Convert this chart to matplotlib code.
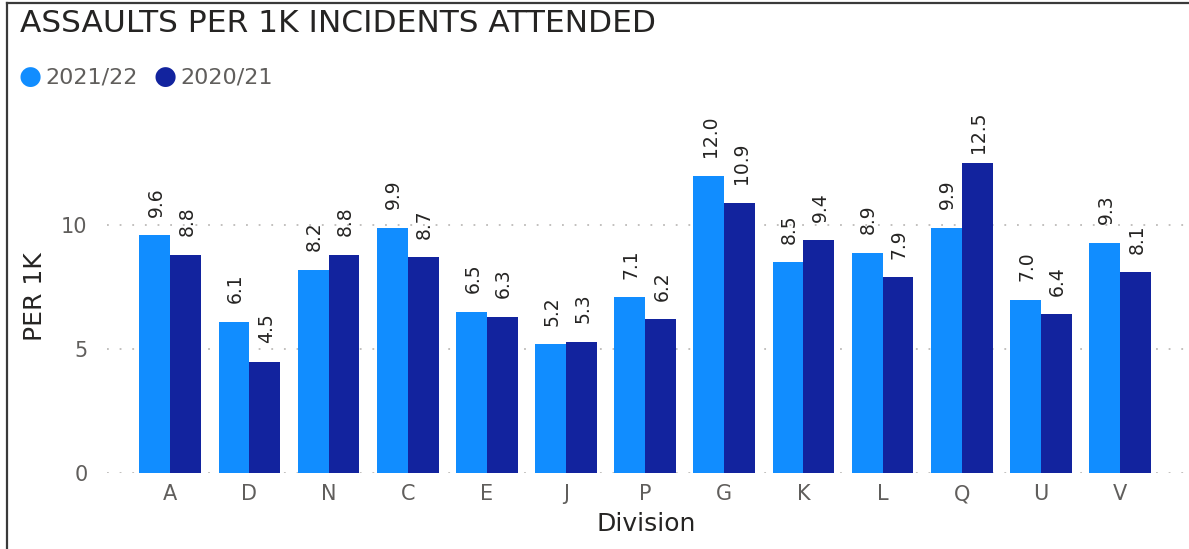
import matplotlib
matplotlib.use("Agg")
import matplotlib.pyplot as plt
import numpy as np

divisions = ["A", "D", "N", "C", "E", "J", "P", "G", "K", "L", "Q", "U", "V"]
rate_2122 = [9.6, 6.1, 8.2, 9.9, 6.5, 5.2, 7.1, 12.0, 8.5, 8.9, 9.9, 7.0, 9.3]
rate_2021 = [8.8, 4.5, 8.8, 8.7, 6.3, 5.3, 6.2, 10.9, 9.4, 7.9, 12.5, 6.4, 8.1]
series_names = ["2021/22", "2020/21"]
yticks = [0, 5, 10]

c_light = "#118DFF"
c_dark = "#12239E"
grey = "#605E5C"
ink = "#252423"

plt.rcParams["font.family"] = ["DejaVu Sans"]

W, H = 1189, 549
fig = plt.figure(figsize=(W / 100, H / 100), dpi=100)
ax = fig.add_axes([0.090, 0.1384, 0.9066, 0.643])

y_top = 14.25
x = np.arange(len(divisions))
w = 0.39
ax.bar(x - w / 2, rate_2122, width=w, color=c_light, zorder=3)
ax.bar(x + w / 2, rate_2021, width=w, color=c_dark, zorder=3)

# value labels sit above each bar, pushed down when they would leave the plot area
label_room = 1.35
for offs, vals in ((-w / 2, rate_2122), (w / 2, rate_2021)):
    for xi, v in zip(x + offs, vals):
        ypos = min(v + 0.75, y_top - label_room)
        ax.annotate(f"{v:.1f}", (xi, ypos), xytext=(1, 0), textcoords="offset points",
                    rotation=90, ha="center", va="bottom", fontsize=13.5, color=ink)

ax.set_xlim(-0.8, len(divisions) - 1 + 0.82)
ax.set_ylim(0, y_top)
ax.set_yticks(yticks)
ax.set_yticklabels([str(t) for t in yticks])
ax.set_xticks(x)
ax.set_xticklabels(divisions)
ax.tick_params(axis="both", length=0, labelsize=15, colors=grey)
ax.tick_params(axis="x", pad=8)
ax.tick_params(axis="y", pad=14)
for s in ax.spines.values():
    s.set_visible(False)
ax.grid(axis="y", color="#BDBBB9", linestyle=(0, (1, 6)), linewidth=1.3, zorder=0)

ax.set_xlabel("Division", fontsize=18, color=ink, labelpad=6)
ax.set_ylabel("PER 1K", fontsize=18, color=ink, labelpad=10)

fig.text(20 / W, 1 - 23 / H, "ASSAULTS PER 1K INCIDENTS ATTENDED",
         fontsize=22.5, color=ink, ha="left", va="center")

# legend built from circle markers and labels
for xp, name, col in zip([30, 165], series_names, [c_light, c_dark]):
    fig.text(xp / W, 1 - 77 / H, "\u25CF", fontsize=19, color=col,
             ha="center", va="center")
    fig.text((xp + 15) / W, 1 - 78 / H, name, fontsize=16, color=grey,
             ha="left", va="center")

# frame lines on the left and top edges
fig.add_artist(plt.Line2D([7 / W, 7 / W], [0, 1 - 3 / H],
                          transform=fig.transFigure, color="#3A3A3A", linewidth=1.6))
fig.add_artist(plt.Line2D([7 / W, 1], [1 - 3 / H, 1 - 3 / H],
                          transform=fig.transFigure, color="#3A3A3A", linewidth=1.6))

fig.savefig("out.png", dpi=100)
